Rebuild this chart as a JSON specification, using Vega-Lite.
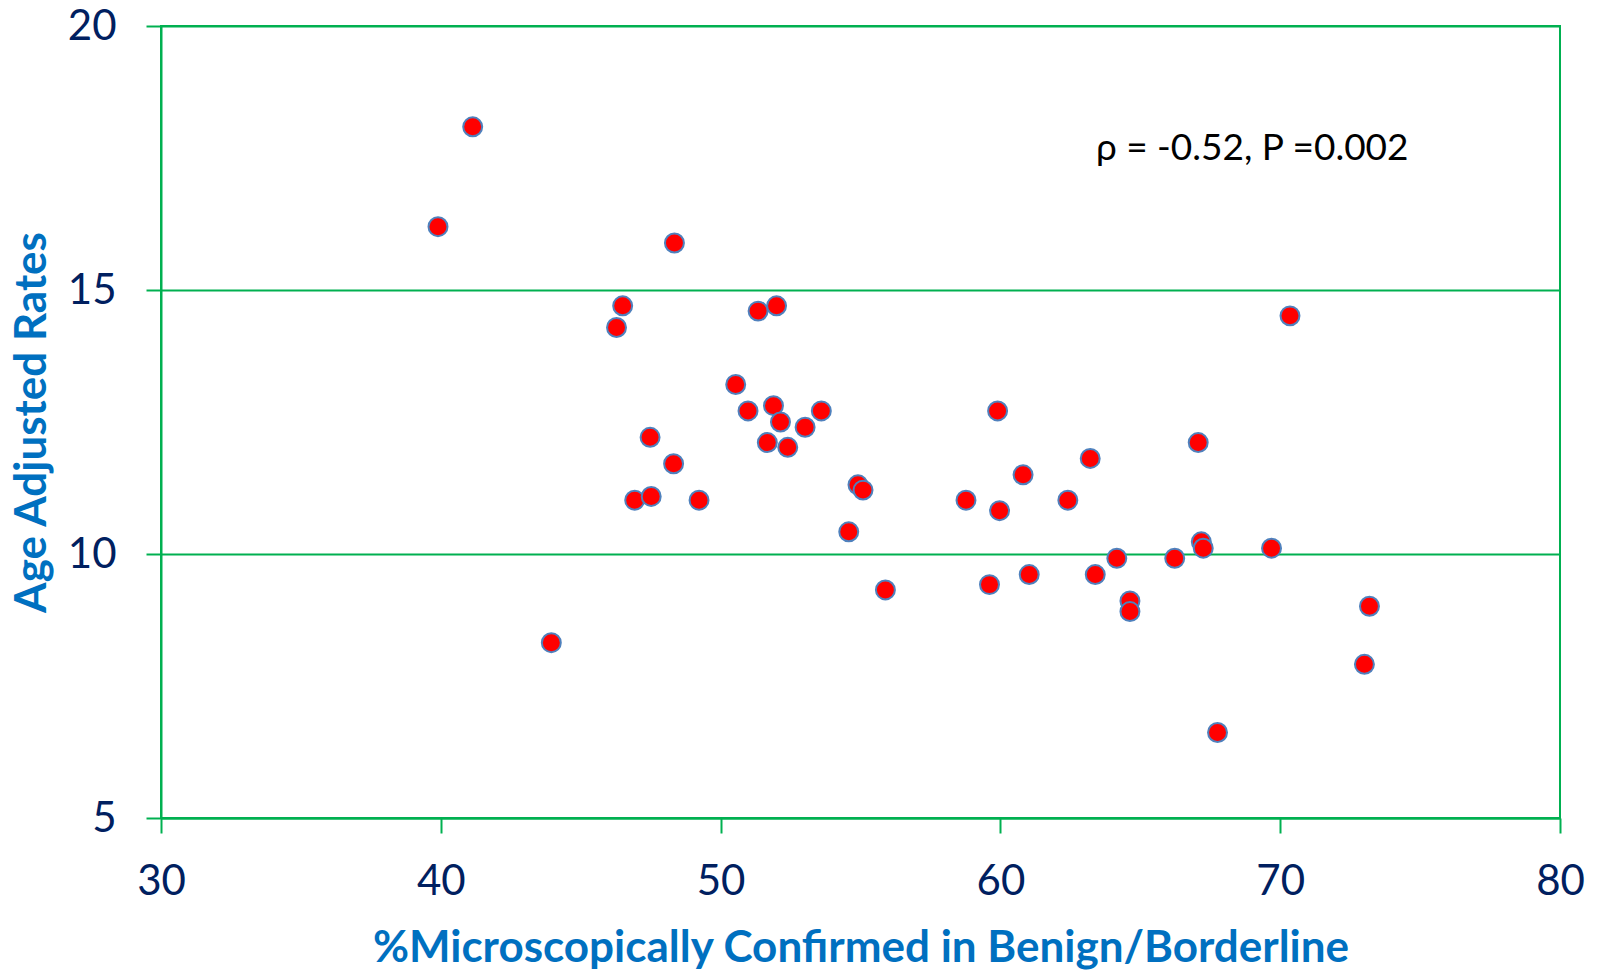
{
  "$schema": "https://vega.github.io/schema/vega-lite/v6.json",
  "autosize": {"type": "none"},
  "padding": {"left": 161, "top": 26, "right": 39, "bottom": 154},
  "width": 1399,
  "height": 792,
  "background": "white",
  "config": {
    "font": "Lato",
    "view": {"stroke": "#00B050", "strokeWidth": 2}
  },
  "datasets": {
    "pts": [
      {"pct": 39.9, "rate": 16.2},
      {"pct": 41.14, "rate": 18.09},
      {"pct": 43.95, "rate": 8.32},
      {"pct": 46.28, "rate": 14.29},
      {"pct": 46.5, "rate": 14.7},
      {"pct": 46.93, "rate": 11.02},
      {"pct": 47.48, "rate": 12.21},
      {"pct": 47.52, "rate": 11.09},
      {"pct": 48.35, "rate": 15.89},
      {"pct": 48.32, "rate": 11.71},
      {"pct": 49.23, "rate": 11.02},
      {"pct": 50.54, "rate": 13.21},
      {"pct": 50.98, "rate": 12.71},
      {"pct": 51.34, "rate": 14.6},
      {"pct": 52.0, "rate": 14.7},
      {"pct": 51.67, "rate": 12.11},
      {"pct": 51.89, "rate": 12.81},
      {"pct": 52.14, "rate": 12.5},
      {"pct": 52.4, "rate": 12.02},
      {"pct": 53.02, "rate": 12.4},
      {"pct": 53.6, "rate": 12.71},
      {"pct": 54.58, "rate": 10.42},
      {"pct": 54.91, "rate": 11.31},
      {"pct": 55.09, "rate": 11.21},
      {"pct": 55.89, "rate": 9.32},
      {"pct": 58.77, "rate": 11.02},
      {"pct": 59.61, "rate": 9.42},
      {"pct": 59.9, "rate": 12.71},
      {"pct": 59.97, "rate": 10.82},
      {"pct": 60.81, "rate": 11.5},
      {"pct": 61.03, "rate": 9.61},
      {"pct": 62.41, "rate": 11.02},
      {"pct": 63.21, "rate": 11.81},
      {"pct": 63.39, "rate": 9.61},
      {"pct": 64.16, "rate": 9.92},
      {"pct": 64.63, "rate": 9.11},
      {"pct": 64.63, "rate": 8.91},
      {"pct": 66.23, "rate": 9.92},
      {"pct": 67.07, "rate": 12.11},
      {"pct": 67.18, "rate": 10.23},
      {"pct": 67.25, "rate": 10.11},
      {"pct": 67.76, "rate": 6.62},
      {"pct": 69.69, "rate": 10.11},
      {"pct": 70.35, "rate": 14.51},
      {"pct": 73.01, "rate": 7.91},
      {"pct": 73.19, "rate": 9.01}
    ],
    "note": [
      {"pct": 69.0, "rate": 17.67, "label": "ρ = -0.52, P =0.002"}
    ]
  },
  "layer": [
    {
      "data": {"name": "pts"},
      "mark": {"type": "point", "shape": "circle", "filled": true, "fill": "#FF0000", "stroke": "#4F81BD", "strokeWidth": 2, "opacity": 1, "size": 360},
      "encoding": {
        "x": {
          "field": "pct", "type": "quantitative",
          "scale": {"domain": [30, 80], "nice": false, "zero": false},
          "axis": {
            "values": [30, 40, 50, 60, 70, 80],
            "title": "%Microscopically Confirmed in Benign/Borderline",
            "grid": false,
            "domainColor": "#00B050", "domainWidth": 2,
            "tickColor": "#00B050", "tickWidth": 2, "tickSize": 15,
            "labelFont": "Lato", "labelFontSize": 42, "labelColor": "#002060", "labelPadding": 28,
            "labelFlush": false,
            "titleFont": "Lato", "titleFontSize": 44, "titleFontWeight": "bold", "titleColor": "#0070C0",
            "titleBaseline": "alphabetic", "titleY": 143
          }
        },
        "y": {
          "field": "rate", "type": "quantitative",
          "scale": {"domain": [5, 20], "nice": false, "zero": false},
          "axis": {
            "values": [5, 10, 15, 20],
            "title": "Age Adjusted Rates",
            "grid": true, "gridColor": "#00B050", "gridWidth": 2,
            "domainColor": "#00B050", "domainWidth": 2,
            "tickColor": "#00B050", "tickWidth": 2, "tickSize": 15,
            "labelFont": "Lato", "labelFontSize": 42, "labelColor": "#002060", "labelPadding": 30,
            "labelFlush": false,
            "titleFont": "Lato", "titleFontSize": 44, "titleFontWeight": "bold", "titleColor": "#0070C0",
            "titleAngle": -90, "titleBaseline": "alphabetic", "titleX": -116, "titleY": 396, "titleAlign": "center"
          }
        }
      }
    },
    {
      "data": {"name": "note"},
      "mark": {"type": "text", "font": "Lato", "fontSize": 37, "color": "black", "align": "center", "baseline": "middle"},
      "encoding": {
        "x": {"field": "pct", "type": "quantitative"},
        "y": {"field": "rate", "type": "quantitative"},
        "text": {"field": "label"}
      }
    }
  ]
}
